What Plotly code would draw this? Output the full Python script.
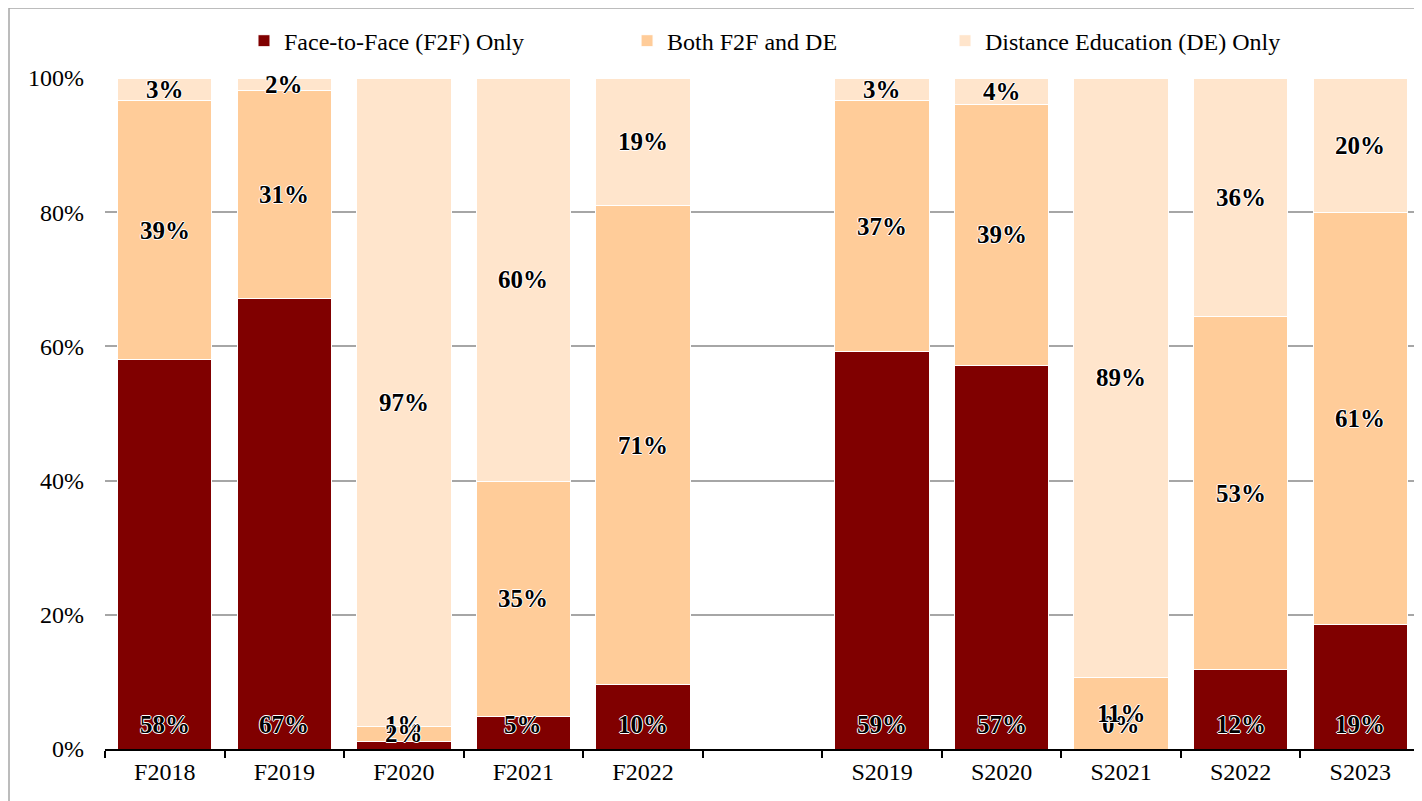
import plotly.graph_objects as go

# categorias (o espaço em branco é a coluna vazia entre Fall e Spring)
categorias = ["F2018", "F2019", "F2020", "F2021", "F2022", " ",
              "S2019", "S2020", "S2021", "S2022", "S2023"]

# percentuais
f2f = [58.0, 67.2, 1.1, 4.9, 9.6, None, 59.2, 57.2, 0.0, 11.8, 18.6]
ambos = [38.6, 30.9, 2.3, 35.0, 71.4, None, 37.4, 38.9, 10.7, 52.6, 61.4]
de = [3.4, 1.9, 96.6, 60.1, 19.0, None, 3.4, 3.9, 89.3, 35.6, 20.0]

nomes = ["Face-to-Face (F2F) Only", "Both F2F and DE", "Distance Education (DE) Only"]
cores = ["#800000", "#FFCC99", "#FFE5CC"]

FONTE = "Liberation Serif, Times New Roman, serif"
HALO = "1px 0px 0px white, -1px 0px 0px white, 0px 1px 0px white, 0px -1px 0px white"

fig = go.Figure()

series = [f2f, ambos, de]
legendas = ["legend", "legend2", "legend3"]
for valores, nome, cor, leg in zip(series, nomes, cores, legendas):
    fig.add_trace(go.Bar(
        x=categorias,
        y=[None if v is None else v / 100 for v in valores],
        name=nome,
        marker=dict(color=cor, line=dict(color="white", width=1)),
        legend=leg,
        showlegend=True,
        hoverinfo="skip",
    ))

# rótulos de dados
anotacoes = []
for i, cat in enumerate(categorias):
    if f2f[i] is None:
        continue
    fonte_rot = dict(family=FONTE, size=25, color="black", weight="bold", shadow=HALO)
    # F2F: rótulo na base da barra
    anotacoes.append(dict(x=cat, y=0, yanchor="bottom", yshift=9, showarrow=False,
                          text=f"{f2f[i]:.0f}%", font=fonte_rot))
    # Both: centro do segmento
    y_ambos = (f2f[i] + ambos[i] / 2) / 100
    anotacoes.append(dict(x=cat, y=y_ambos, yanchor="middle", showarrow=False,
                          text=f"{ambos[i]:.0f}%", font=fonte_rot))
    # DE: centro do segmento
    y_de = (f2f[i] + ambos[i] + de[i] / 2) / 100
    anotacoes.append(dict(x=cat, y=y_de, yanchor="middle", showarrow=False,
                          text=f"{de[i]:.0f}%", font=fonte_rot))

leg_base = dict(orientation="h", yanchor="middle", y=1.055, xanchor="left",
                font=dict(family=FONTE, size=24, color="black"),
                bgcolor="rgba(0,0,0,0)", itemwidth=30)

# moldura cinza (só topo e lado esquerdo aparecem no original)
moldura = dict(color="#A6A6A6", width=1.5)

fig.update_layout(
    barmode="stack",
    bargap=0.21,
    width=1422,
    height=801,
    # a página tem 8px de margem no body, por isso l/t compensam
    margin=dict(l=97, r=10, t=70, b=60),
    plot_bgcolor="white",
    paper_bgcolor="white",
    font=dict(family=FONTE, size=24, color="black"),
    showlegend=True,
    annotations=anotacoes,
    legend=dict(leg_base, x=0.1057),
    legend2=dict(leg_base, x=0.397),
    legend3=dict(leg_base, x=0.6388),
    shapes=[
        dict(type="line", xref="paper", yref="paper", x0=-0.073, x1=1.01,
             y0=1.1043, y1=1.1043, line=moldura, layer="below"),
        dict(type="line", xref="paper", yref="paper", x0=-0.073, x1=-0.073,
             y0=1.1043, y1=-0.0775, line=moldura, layer="below"),
    ],
)

fig.update_xaxes(
    type="category",
    showline=True, linecolor="black", linewidth=1.5,
    ticks="outside", tickson="boundaries", ticklen=7, tickcolor="black", tickwidth=1.5,
    showgrid=False,
    tickfont=dict(family=FONTE, size=24, color="black"),
)
fig.update_yaxes(
    range=[0, 1],
    dtick=0.2,
    tickformat=".0%",
    showgrid=True, gridcolor="#A6A6A6", gridwidth=1.5,
    showline=False, zeroline=False,
    ticks="", ticklabelstandoff=20,
    tickfont=dict(family=FONTE, size=24, color="black"),
)

fig.write_html("out.html")
